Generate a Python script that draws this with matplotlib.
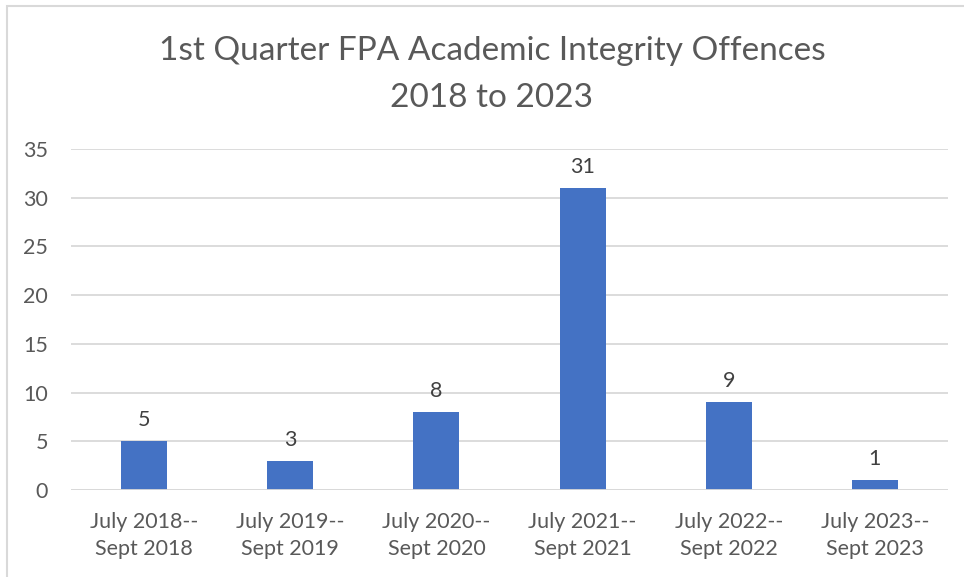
import matplotlib.pyplot as plt
from matplotlib.patches import Rectangle

# Chart data
periods = ['July 2018--\nSept 2018', 'July 2019--\nSept 2019', 'July 2020--\nSept 2020',
           'July 2021--\nSept 2021', 'July 2022--\nSept 2022', 'July 2023--\nSept 2023']
offences = [5, 3, 8, 31, 9, 1]
y_ticks = [0, 5, 10, 15, 20, 25, 30, 35]

W, H = 964, 577
text_color = '#595959'
grid_color = '#d9d9d9'
bar_color = '#4472c4'

plt.rcParams['font.family'] = ['Lato', 'DejaVu Sans']

fig = plt.figure(figsize=(W / 100, H / 100), dpi=100)
ax = fig.add_axes([71 / W, 1 - 490 / H, (948 - 71) / W, (490 - 149) / H])

x = list(range(len(periods)))
bars = ax.bar(x, offences, width=0.315, color=bar_color, zorder=3)

# Data labels above bars
for xi, v in zip(x, offences):
    ax.annotate(str(v), (xi, v), xytext=(0, 8), textcoords='offset points',
                ha='center', va='bottom', fontsize=15.5, color='#404040')

ax.set_xlim(-0.5, len(periods) - 0.5)
ax.set_ylim(0, 35)
ax.set_yticks(y_ticks)
ax.set_xticks(x)
ax.set_xticklabels(periods, linespacing=1.45)
ax.yaxis.grid(True, color=grid_color, linewidth=1.3, zorder=0)
ax.tick_params(axis='both', length=0, labelsize=15.5, labelcolor=text_color)
ax.tick_params(axis='x', pad=16)
ax.tick_params(axis='y', pad=16.5)
for s in ax.spines.values():
    s.set_visible(False)
ax.axhline(0, color=grid_color, linewidth=1.3, zorder=4)

# Title
fig.text(492 / W, 1 - 51 / H, '1st Quarter FPA Academic Integrity Offences',
         ha='center', va='center', fontsize=24, color=text_color)
fig.text(492 / W, 1 - 98 / H, '2018 to 2023',
         ha='center', va='center', fontsize=24, color=text_color)

# Chart border (left and top visible)
fig.patches.append(Rectangle((6.5 / W, -0.1), 1.2, 1.1 - 6.5 / H,
                             transform=fig.transFigure, fill=False,
                             edgecolor='#d9d9d9', linewidth=1.5))

fig.savefig('out.png', dpi=100)
